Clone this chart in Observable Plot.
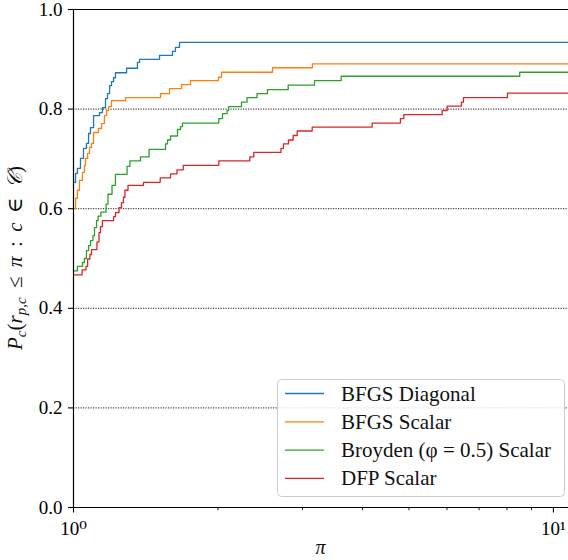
<!DOCTYPE html>
<html>
<head>
<meta charset="utf-8">
<script src="https://cdn.jsdelivr.net/npm/d3@7"></script>
<script src="https://cdn.jsdelivr.net/npm/@observablehq/plot@0.6"></script>
<style>
  html, body { margin: 0; padding: 0; background: #fff; }
  #chart svg { display: block; }
</style>
</head>
<body>
<div id="chart"></div>
<script>
// ---- data ----
const series = ["BFGS Diagonal", "BFGS Scalar", "Broyden (φ = 0.5) Scalar", "DFP Scalar"];
const colors = ["#1f77b4", "#ff7f0e", "#2ca02c", "#d62728"];

const bfgsDiagX = [1, 1.010, 1.019, 1.034, 1.049, 1.064, 1.075, 1.085, 1.101, 1.133, 1.149, 1.166, 1.177, 1.189, 1.200, 1.212, 1.223, 1.290, 1.359, 1.373, 1.511, 1.608, 1.631, 1.663];
const bfgsDiagY = [0.653, 0.671, 0.681, 0.701, 0.721, 0.731, 0.751, 0.763, 0.787, 0.793, 0.803, 0.821, 0.831, 0.847, 0.855, 0.863, 0.873, 0.882, 0.894, 0.900, 0.908, 0.916, 0.924, 0.934];

const bfgsScalX = [1, 1.010, 1.019, 1.029, 1.044, 1.054, 1.059, 1.070, 1.080, 1.090, 1.101, 1.127, 1.144, 1.160, 1.172, 1.183, 1.200, 1.283, 1.518, 1.585, 1.679, 1.753, 2.005, 2.034, 2.598, 3.147];
const bfgsScalY = [0.600, 0.621, 0.637, 0.657, 0.673, 0.687, 0.701, 0.711, 0.723, 0.731, 0.753, 0.761, 0.771, 0.787, 0.797, 0.805, 0.817, 0.823, 0.831, 0.841, 0.849, 0.857, 0.864, 0.874, 0.883, 0.891];

const broydenX = [1, 1.019, 1.044, 1.054, 1.064, 1.075, 1.085, 1.098, 1.106, 1.117, 1.125, 1.141, 1.169, 1.180, 1.203, 1.223, 1.293, 1.311, 1.379, 1.437, 1.555, 1.570, 1.593, 1.647, 1.671, 1.687, 2.008, 2.044, 2.090, 2.104, 2.239, 2.299, 2.412, 2.536, 2.801, 3.178, 3.612, 8.507];
const broydenY = [0.475, 0.484, 0.492, 0.500, 0.516, 0.526, 0.536, 0.546, 0.562, 0.576, 0.585, 0.593, 0.609, 0.629, 0.647, 0.669, 0.685, 0.696, 0.704, 0.719, 0.730, 0.738, 0.746, 0.759, 0.765, 0.772, 0.781, 0.791, 0.797, 0.805, 0.814, 0.823, 0.831, 0.839, 0.848, 0.857, 0.866, 0.874];

const dfpX = [1, 1.042, 1.062, 1.070, 1.082, 1.090, 1.119, 1.130, 1.138, 1.149, 1.212, 1.223, 1.244, 1.259, 1.271, 1.280, 1.299, 1.399, 1.516, 1.593, 1.643, 1.693, 2.008, 2.330, 2.375, 2.706, 2.738, 2.805, 2.869, 2.925, 3.143, 4.191, 4.800, 4.877, 5.863, 6.006, 6.432, 6.494, 8.020];
const dfpY = [0.467, 0.477, 0.484, 0.499, 0.508, 0.518, 0.533, 0.552, 0.564, 0.576, 0.584, 0.592, 0.602, 0.612, 0.623, 0.637, 0.647, 0.653, 0.662, 0.670, 0.678, 0.687, 0.696, 0.704, 0.713, 0.721, 0.730, 0.738, 0.747, 0.756, 0.764, 0.772, 0.781, 0.789, 0.797, 0.806, 0.814, 0.823, 0.832];

const yTicks = [0, 0.2, 0.4, 0.6, 0.8, 1.0];
const gridTicks = [0.2, 0.4, 0.6, 0.8];
const xMajorTicks = [1, 10];
const xMajorLabels = ["10⁰", "10¹"];
const xMinorTicks = [2, 3, 4, 5, 6, 7, 8, 9];
const xDomain = [1, 10.75];

// ---- build table ----
const xs = [bfgsDiagX, bfgsScalX, broydenX, dfpX];
const ys = [bfgsDiagY, bfgsScalY, broydenY, dfpY];
const rows = [];
series.forEach((name, i) => {
  xs[i].forEach((x, j) => rows.push({series: name, x, y: ys[i][j]}));
  rows.push({series: name, x: xDomain[1], y: ys[i][ys[i].length - 1]});
});

const FONT = "'Liberation Serif', 'DejaVu Serif', serif";
const W = 568, H = 560;

const chart = Plot.plot({
  width: W,
  height: H,
  marginLeft: 73,
  marginRight: 0,
  marginTop: 9,
  marginBottom: 53,
  style: {fontFamily: FONT, fontSize: "19px", background: "#fff", overflow: "visible"},
  x: {type: "log", domain: xDomain},
  y: {domain: [0, 1]},
  color: {domain: series, range: colors},
  marks: [
    Plot.gridY(gridTicks, {stroke: "#000", strokeOpacity: 1, strokeWidth: 0.9, strokeDasharray: "1.2,1.3"}),
    Plot.line(rows, {x: "x", y: "y", z: "series", stroke: "series", curve: "step-after", strokeWidth: 1.3}),
    Plot.ruleX([1], {stroke: "#000", strokeWidth: 1.2}),
    Plot.ruleY([0, 1], {stroke: "#000", strokeWidth: 1.2}),
    Plot.axisY(yTicks, {tickFormat: d3.format(".1f"), tickSize: 5, tickPadding: 6, fontSize: 19, label: null, stroke: "#000", strokeWidth: 1.1}),
    Plot.axisX(xMajorTicks, {tickFormat: (d) => xMajorLabels[xMajorTicks.indexOf(d)], tickSize: 5.5, tickPadding: 8, fontSize: 19, label: null, stroke: "#000", strokeWidth: 1.1}),
    Plot.axisX(xMinorTicks, {tickFormat: () => "", tickSize: 3.2, label: null, stroke: "#000", strokeWidth: 0.9})
  ]
});

document.getElementById("chart").appendChild(chart);

// ---- axis titles and legend (SVG text) ----
const svg = d3.select(chart);

// x title
svg.append("text")
  .attr("x", (73 + W) / 2).attr("y", 554)
  .attr("text-anchor", "middle")
  .attr("font-family", FONT).attr("font-size", 20).attr("font-style", "italic")
  .attr("fill", "#111")
  .text("π");

// y title with subscripts
const sp = "\u2005\u2009";
const yt = svg.append("text")
  .attr("transform", `translate(22,${(9 + 507) / 2}) rotate(-90)`)
  .attr("text-anchor", "middle")
  .attr("font-family", FONT).attr("font-size", 21).attr("font-style", "italic")
  .attr("fill", "#111");
yt.append("tspan").text("P");
yt.append("tspan").attr("dy", 4).attr("font-size", 15).text("c");
yt.append("tspan").attr("dy", -4).attr("font-style", "normal").text("(");
yt.append("tspan").text("r");
yt.append("tspan").attr("dy", 4).attr("font-size", 15).text("p,c");
yt.append("tspan").attr("dy", -4).attr("font-style", "normal").text(sp + "≤" + sp);
yt.append("tspan").text("π");
yt.append("tspan").attr("font-style", "normal").text(sp + ":" + sp);
yt.append("tspan").text("c");
yt.append("tspan").attr("font-style", "normal").text(sp + "∈" + sp);
yt.append("tspan").text("𝒞");
yt.append("tspan").attr("font-style", "normal").text(")");

// legend
const lg = svg.append("g").attr("font-family", FONT).attr("font-size", 21).attr("text-anchor", "start");
lg.append("rect")
  .attr("x", 277.5).attr("y", 379.5).attr("width", 287).attr("height", 117).attr("rx", 4)
  .attr("fill", "#fff").attr("fill-opacity", 0.85).attr("stroke", "#cccccc").attr("stroke-width", 1);
series.forEach((name, i) => {
  const cy = 393.5 + i * 28.3;
  lg.append("line").attr("x1", 285).attr("x2", 324).attr("y1", cy).attr("y2", cy)
    .attr("stroke", colors[i]).attr("stroke-width", 1.3);
  lg.append("text").attr("x", 341).attr("y", cy + 7).attr("fill", "#111")
    .attr("text-anchor", "start").text(name);
});
</script>
</body>
</html>
